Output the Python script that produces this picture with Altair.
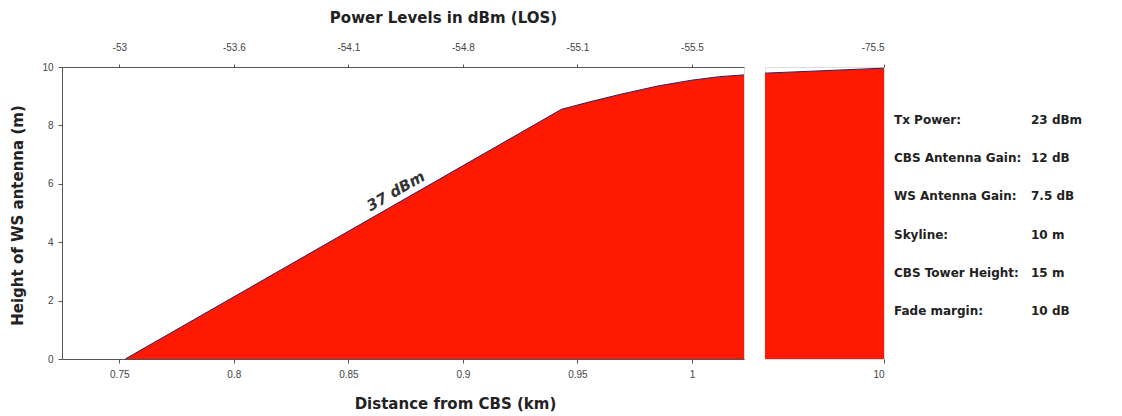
import altair as alt
import pandas as pd

# ---------------- data ----------------
near_dist = [0.7526, 0.943, 0.955, 0.968, 0.985, 1.0, 1.012, 1.0227]
near_height = [0.0, 8.55, 8.8, 9.05, 9.35, 9.55, 9.67, 9.73]
far_dist = [2, 10]
far_height = [9.79, 9.96]

dist_ticks = [0.75, 0.8, 0.85, 0.9, 0.95, 1.0]
power_labels = ["-53", "-53.6", "-54.1", "-54.8", "-55.1", "-55.5"]
far_ticks = [10]
far_power_labels = ["-75.5"]
height_ticks = [0, 2, 4, 6, 8, 10]

contour_text = ["37 dBm"]
contour_dist = [0.8707]
contour_height = [5.75]

param_names = ["Tx Power:", "CBS Antenna Gain:", "WS Antenna Gain:", "Skyline:",
               "CBS Tower Height:", "Fade margin:"]
param_values = ["23 dBm", "12 dB", "7.5 dB", "10 m", "15 m", "10 dB"]

# ---------------- style ----------------
RED = "#fe1a02"
EDGE = "#2a1f5e"
FONT = "Liberation Sans"
TFONT = "DejaVu Sans"
AX = "#555555"
LAB = "#444444"


def label_expr(ticks, labels):
    expr = "''"
    for t, l in reversed(list(zip(ticks, labels))):
        expr = f"abs(datum.value - {t}) < 0.001 ? '{l}' : ({expr})"
    return expr


near_df = pd.DataFrame({"d": near_dist, "h": near_height})
far_df = pd.DataFrame({"d": far_dist, "h": far_height})
lab_df = pd.DataFrame({"d": contour_dist, "h": contour_height, "t": contour_text})
par_df = pd.DataFrame({"name": param_names, "val": param_values})

yscale = alt.Scale(domain=[0, 10], nice=False)
near_x = alt.Scale(domain=[0.725, 1.0227], nice=False, zero=False)
far_x = alt.Scale(domain=[2, 10], nice=False, zero=False)

common_axis = dict(labelFont=FONT, labelFontSize=10, labelColor=LAB,
                   titleFont=TFONT, titleFontSize=15, titleFontWeight="bold",
                   titleColor="#222222", domainColor=AX, tickColor=AX, grid=False)

y_axis = alt.Axis(values=height_ticks, title="Height of WS antenna (m)",
                  titleX=-45, titleY=148, titleAngle=-90, titleAlign="center",
                  titleBaseline="middle", tickSize=4, labelPadding=5, **common_axis)

bottom_axis = alt.Axis(values=dist_ticks, format=".2~f", orient="bottom",
                       title="Distance from CBS (km)", titleX=393, titleY=44,
                       titleAlign="center", titleBaseline="middle",
                       tickSize=4, labelPadding=6, **common_axis)

top_axis = alt.Axis(values=dist_ticks, orient="top",
                    labelExpr=label_expr(dist_ticks, power_labels),
                    title="Power Levels in dBm (LOS)", titleX=381, titleY=-50,
                    titleAlign="center", titleBaseline="middle",
                    tickSize=3, labelPadding=12, **common_axis)

near_area = alt.Chart(near_df).mark_area(
    color=RED, opacity=1, line={"color": EDGE, "strokeWidth": 1}
).encode(
    x=alt.X("d:Q", scale=near_x, axis=bottom_axis),
    y=alt.Y("h:Q", scale=yscale, axis=y_axis),
)

near_top = alt.Chart(near_df).mark_rule(opacity=0).encode(
    x=alt.X("d:Q", scale=near_x, axis=top_axis),
)

near_label = alt.Chart(lab_df).mark_text(
    angle=330, font=TFONT, fontSize=15, fontStyle="italic", fontWeight="bold",
    color="#333333"
).encode(
    x=alt.X("d:Q", scale=near_x, axis=None),
    y=alt.Y("h:Q", scale=yscale),
    text="t:N",
)

near_chart = alt.layer(near_area, near_top, near_label).resolve_axis(
    x="independent"
).properties(width=682, height=292)

far_bottom_axis = alt.Axis(values=far_ticks, format="d", orient="bottom", title=None,
                           domain=False, tickSize=4, labelPadding=6, **common_axis)
far_top_axis = alt.Axis(values=far_ticks, orient="top", title=None, domain=False,
                        labelExpr=label_expr(far_ticks, far_power_labels),
                        tickSize=3, labelPadding=12, **common_axis)

far_area = alt.Chart(far_df).mark_area(
    color=RED, opacity=1, line={"color": EDGE, "strokeWidth": 1}
).encode(
    x=alt.X("d:Q", scale=far_x, axis=far_bottom_axis),
    y=alt.Y("h:Q", scale=yscale, axis=None),
)
far_top = alt.Chart(far_df).mark_rule(opacity=0).encode(
    x=alt.X("d:Q", scale=far_x, axis=far_top_axis),
)
far_chart = alt.layer(far_area, far_top).resolve_axis(
    x="independent"
).properties(width=119, height=292)

par_y = alt.Y("name:N", sort=param_names,
              scale=alt.Scale(type="point", range=[53, 244], padding=0), axis=None)
par_names_layer = alt.Chart(par_df).mark_text(
    align="left", baseline="middle", font=TFONT, fontSize=12, fontWeight="bold",
    color="#222222"
).encode(x=alt.value(0), y=par_y, text="name:N")
par_vals_layer = alt.Chart(par_df).mark_text(
    align="left", baseline="middle", font=TFONT, fontSize=12, fontWeight="bold",
    color="#222222"
).encode(x=alt.value(137), y=par_y, text="val:N")
par_chart = alt.layer(par_names_layer, par_vals_layer).properties(
    width=210, height=292, view=alt.ViewConfig(stroke="transparent")
)

plots = alt.hconcat(near_chart, far_chart, spacing=15)
chart = alt.hconcat(plots, par_chart, spacing=6).properties(
    padding={"left": 1, "top": 1, "right": 5, "bottom": 5}
).configure_view(
    stroke="#777777", strokeWidth=1
).configure(background="white")

chart.save("out.html", embed_options={"renderer": "svg", "actions": False})
